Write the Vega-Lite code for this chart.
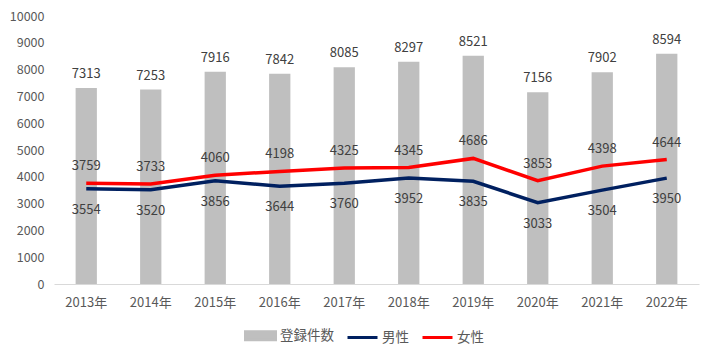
{
  "$schema": "https://vega.github.io/schema/vega-lite/v6.json",
  "width": 645,
  "height": 268,
  "autosize": "none",
  "padding": {"left": 54, "top": 16, "right": 21, "bottom": 75},
  "background": "white",
  "config": {
    "view": {"stroke": null},
    "font": "Noto Sans CJK JP",
    "axis": {"labelFont": "Noto Sans CJK JP", "labelColor": "#595959", "labelFontSize": 12.5, "grid": false, "ticks": false, "title": null},
    "legend": {"labelFont": "Noto Sans CJK JP", "labelColor": "#595959", "labelFontSize": 13.5}
  },
  "data": {
    "values": [
      {"year": "2013年", "total": 7313, "男性": 3554, "女性": 3759},
      {"year": "2014年", "total": 7253, "男性": 3520, "女性": 3733},
      {"year": "2015年", "total": 7916, "男性": 3856, "女性": 4060},
      {"year": "2016年", "total": 7842, "男性": 3644, "女性": 4198},
      {"year": "2017年", "total": 8085, "男性": 3760, "女性": 4325},
      {"year": "2018年", "total": 8297, "男性": 3952, "女性": 4345},
      {"year": "2019年", "total": 8521, "男性": 3835, "女性": 4686},
      {"year": "2020年", "total": 7156, "男性": 3033, "女性": 3853},
      {"year": "2021年", "total": 7902, "男性": 3504, "女性": 4398},
      {"year": "2022年", "total": 8594, "男性": 3950, "女性": 4644}
    ]
  },
  "encoding": {
    "x": {"field": "year", "type": "nominal", "sort": null,
      "scale": {"paddingInner": 0.67, "paddingOuter": 0.335},
      "axis": {"labelAngle": 0, "domainColor": "#d9d9d9", "labelPadding": 12, "labelFontSize": 13}}
  },
  "layer": [
    {
      "mark": {"type": "bar", "color": "#bfbfbf"},
      "encoding": {
        "y": {"field": "total", "type": "quantitative",
          "scale": {"domain": [0, 10000]},
          "axis": {"format": "d", "values": [0,1000,2000,3000,4000,5000,6000,7000,8000,9000,10000], "labelOverlap": false, "domain": false, "labelPadding": 10}},
        "color": {"datum": "登録件数", "type": "nominal",
          "scale": {"domain": ["登録件数", "男性", "女性"], "range": ["#bfbfbf", "#002060", "#ff0000"]},
          "legend": {
            "orient": "none", "legendX": 190, "legendY": 303, "direction": "horizontal", "title": null,
            "symbolSize": 900, "labelOffset": 3, "columnPadding": 7,
            "encode": {"symbols": {"update": {
              "shape": {"signal": "datum.value === '登録件数' ? 'M-1,-0.27H1V0.27H-1Z' : 'M-1,0H1'"},
              "fill": {"signal": "datum.value === '登録件数' ? '#bfbfbf' : 'transparent'"},
              "stroke": {"signal": "datum.value === '男性' ? '#002060' : (datum.value === '女性' ? '#ff0000' : 'transparent')"},
              "strokeWidth": {"value": 3},
              "opacity": {"value": 1}
            }}}
          }}
      }
    },
    {
      "mark": {"type": "text", "baseline": "middle", "dy": -14, "fontSize": 13, "color": "#404040"},
      "encoding": {
        "y": {"field": "total", "type": "quantitative",
          "axis": {"format": "d", "values": [0,1000,2000,3000,4000,5000,6000,7000,8000,9000,10000], "labelOverlap": false, "domain": false, "labelPadding": 10}},
        "text": {"field": "total", "type": "quantitative", "format": "d"}
      }
    },
    {
      "transform": [{"fold": ["男性", "女性"], "as": ["series", "value"]}],
      "mark": {"type": "line", "strokeWidth": 3.5},
      "encoding": {
        "y": {"field": "value", "type": "quantitative",
          "axis": {"format": "d", "values": [0,1000,2000,3000,4000,5000,6000,7000,8000,9000,10000], "labelOverlap": false, "domain": false, "labelPadding": 10}},
        "color": {"field": "series", "type": "nominal",
          "legend": {
            "orient": "none", "legendX": 190, "legendY": 303, "direction": "horizontal", "title": null,
            "symbolSize": 900, "labelOffset": 3, "columnPadding": 7,
            "encode": {"symbols": {"update": {
              "shape": {"signal": "datum.value === '登録件数' ? 'M-1,-0.27H1V0.27H-1Z' : 'M-1,0H1'"},
              "fill": {"signal": "datum.value === '登録件数' ? '#bfbfbf' : 'transparent'"},
              "stroke": {"signal": "datum.value === '男性' ? '#002060' : (datum.value === '女性' ? '#ff0000' : 'transparent')"},
              "strokeWidth": {"value": 3},
              "opacity": {"value": 1}
            }}}
          }}
      }
    },
    {
      "mark": {"type": "text", "baseline": "middle", "dy": -17, "fontSize": 13, "color": "#404040"},
      "encoding": {
        "y": {"field": "女性", "type": "quantitative",
          "axis": {"format": "d", "values": [0,1000,2000,3000,4000,5000,6000,7000,8000,9000,10000], "labelOverlap": false, "domain": false, "labelPadding": 10}},
        "text": {"field": "女性", "type": "quantitative", "format": "d"}
      }
    },
    {
      "mark": {"type": "text", "baseline": "middle", "dy": 21, "fontSize": 13, "color": "#404040"},
      "encoding": {
        "y": {"field": "男性", "type": "quantitative",
          "axis": {"format": "d", "values": [0,1000,2000,3000,4000,5000,6000,7000,8000,9000,10000], "labelOverlap": false, "domain": false, "labelPadding": 10}},
        "text": {"field": "男性", "type": "quantitative", "format": "d"}
      }
    }
  ]
}
